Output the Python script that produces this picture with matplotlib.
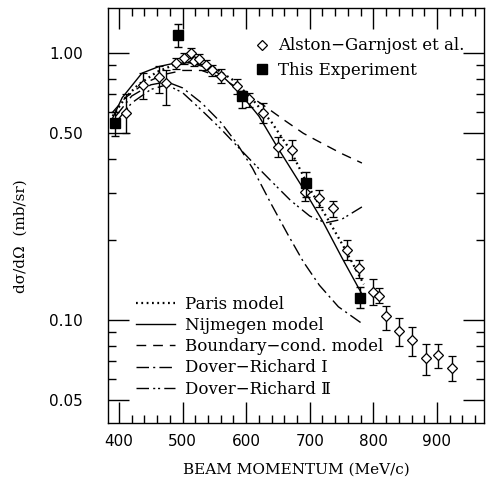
import numpy as np
import matplotlib
matplotlib.use("Agg")
import matplotlib.pyplot as plt
from matplotlib.ticker import FixedLocator, NullFormatter, FixedFormatter

# Alston-Garnjost et al. data
ag_x = [411, 438, 463, 474, 490, 503, 514, 518, 526, 537, 547, 561, 585, 605, 627,
        650, 672, 692, 714, 736, 759, 778, 800, 809, 820, 841, 861, 883, 902, 923]
ag_y = [0.596, 0.759, 0.814, 0.771, 0.916, 0.955, 1.00, 0.93, 0.95, 0.90, 0.86, 0.82, 0.75, 0.67, 0.596,
        0.446, 0.433, 0.302, 0.287, 0.263, 0.183, 0.156, 0.127, 0.123, 0.103, 0.091, 0.084, 0.072, 0.074, 0.066]
ag_lo = [0.50, 0.67, 0.71, 0.64, 0.87, 0.91, 0.96, 0.89, 0.91, 0.86, 0.82, 0.77, 0.70, 0.63, 0.547,
         0.408, 0.397, 0.278, 0.265, 0.243, 0.168, 0.144, 0.114, 0.116, 0.092, 0.080, 0.073, 0.062, 0.066, 0.059]
ag_hi = [0.70, 0.84, 0.89, 0.86, 0.96, 1.00, 1.04, 0.97, 0.99, 0.94, 0.90, 0.87, 0.80, 0.71, 0.65,
         0.484, 0.472, 0.328, 0.307, 0.28, 0.199, 0.168, 0.142, 0.132, 0.113, 0.102, 0.094, 0.081, 0.081, 0.073]

# This experiment
ex_x = [394, 493, 593, 694, 779]
ex_y = [0.547, 1.167, 0.69, 0.326, 0.121]
ex_lo = [0.49, 1.05, 0.62, 0.289, 0.111]
ex_hi = [0.60, 1.28, 0.72, 0.358, 0.133]

# Model curves
paris_x = [390, 410, 430, 460, 490, 520, 550, 580, 610, 640, 670, 700, 730, 755, 785]
paris_y = [0.58, 0.68, 0.76, 0.85, 0.91, 0.93, 0.88, 0.79, 0.67, 0.55, 0.43, 0.31, 0.235, 0.185, 0.136]

nij_x = [390, 405, 436, 463, 482, 510, 540, 560, 590, 620, 650, 690, 720, 750, 782]
nij_y = [0.57, 0.68, 0.84, 0.89, 0.91, 0.92, 0.88, 0.83, 0.71, 0.58, 0.44, 0.31, 0.235, 0.172, 0.125]

bc_x = [390, 410, 440, 470, 500, 530, 560, 590, 626, 660, 690, 711, 750, 782]
bc_y = [0.60, 0.68, 0.77, 0.83, 0.86, 0.86, 0.81, 0.73, 0.64, 0.56, 0.50, 0.47, 0.42, 0.387]

dr1_x = [395, 420, 450, 475, 500, 530, 560, 585, 610, 640, 665, 690, 715, 745, 782]
dr1_y = [0.58, 0.69, 0.76, 0.78, 0.74, 0.65, 0.55, 0.46, 0.37, 0.27, 0.21, 0.165, 0.135, 0.112, 0.097]

dr2_x = [395, 420, 450, 475, 500, 530, 560, 585, 610, 640, 670, 700, 725, 750, 782]
dr2_y = [0.55, 0.65, 0.73, 0.76, 0.71, 0.61, 0.52, 0.45, 0.39, 0.33, 0.28, 0.245, 0.231, 0.238, 0.265]

legend_models = ["Paris model", "Nijmegen model", "Boundary\u2212cond. model",
                 "Dover\u2212Richard \u2160", "Dover\u2212Richard \u2161"]
legend_data = ["Alston\u2212Garnjost et al.", "This Experiment"]

x_major = [400, 500, 600, 700, 800, 900]
y_major = [0.05, 0.10, 0.50, 1.00]
y_major_labels = ["0.05", "0.10", "0.50", "1.00"]

serif = ["DejaVu Serif", "DejaVu Sans"]

fig = plt.figure(figsize=(4.86, 4.80), dpi=100)
ax = fig.add_axes([108/486, 1-423/480, (484-108)/486, (423-8)/480])
ax.set_yscale("log")
ax.set_xlim(382.7, 974)
ax.set_ylim(0.0411, 1.474)

lw = 1.0
l1, = ax.plot(paris_x, paris_y, color="black", lw=1.6, linestyle=(0, (0.8, 1.6)))
l2, = ax.plot(nij_x, nij_y, color="black", lw=lw, linestyle="-")
l3, = ax.plot(bc_x, bc_y, color="black", lw=lw, linestyle=(0, (7, 5)))
l4, = ax.plot(dr1_x, dr1_y, color="black", lw=lw, linestyle=(0, (9, 3, 1.5, 3)))
l5, = ax.plot(dr2_x, dr2_y, color="black", lw=lw, linestyle=(0, (9, 3, 1.5, 2, 1.5, 3)))

ag_err = [np.array(ag_y) - np.array(ag_lo), np.array(ag_hi) - np.array(ag_y)]
ex_err = [np.array(ex_y) - np.array(ex_lo), np.array(ex_hi) - np.array(ex_y)]
h1 = ax.errorbar(ag_x, ag_y, yerr=ag_err, fmt="D", ms=5, mfc="white", mec="black", mew=0.9,
                 ecolor="black", elinewidth=1.0, capsize=3, capthick=1.0, zorder=4)
h2 = ax.errorbar(ex_x, ex_y, yerr=ex_err, fmt="s", ms=7, mfc="black", mec="black",
                 ecolor="black", elinewidth=1.0, capsize=3, capthick=1.0, zorder=5)

ax.xaxis.set_major_locator(FixedLocator(x_major))
ax.xaxis.set_minor_locator(FixedLocator([v for v in range(380, 980, 20) if v not in x_major]))
ax.yaxis.set_major_locator(FixedLocator(y_major))
ax.yaxis.set_major_formatter(FixedFormatter(y_major_labels))
ax.yaxis.set_minor_locator(FixedLocator([0.06, 0.07, 0.08, 0.09, 0.2, 0.3, 0.4, 0.6, 0.7, 0.8, 0.9]))
ax.yaxis.set_minor_formatter(NullFormatter())
ax.tick_params(which="both", direction="in", top=True, right=True, width=1.0)
ax.tick_params(which="major", length=15)
ax.tick_params(which="minor", length=6)
ax.tick_params(axis="y", which="major", pad=18, labelsize=11)
ax.tick_params(axis="x", which="major", pad=8, labelsize=11)
for s in ax.spines.values():
    s.set_linewidth(1.0)

leg1 = ax.legend([h1[0], h2[0]], legend_data, loc="upper left", frameon=False,
                 prop={"family": serif, "size": 12}, handlelength=0.8, handletextpad=0.55,
                 bbox_to_anchor=(0.375, 0.945), borderaxespad=0.0, labelspacing=0.45)
ax.add_artist(leg1)
leg2 = ax.legend([l1, l2, l3, l4, l5], legend_models, loc="lower left", frameon=False,
                 prop={"family": serif, "size": 12}, handlelength=2.3, handletextpad=0.6,
                 bbox_to_anchor=(0.058, 0.045), borderaxespad=0.0, labelspacing=0.25)

ax.set_xlabel("BEAM MOMENTUM (MeV/c)", family=serif, fontsize=11, labelpad=10)
ax.set_ylabel("d\u03c3/d\u03a9  (mb/sr)", family=serif, fontsize=11)
ax.yaxis.set_label_coords(-0.215, 0.45)

fig.savefig("out.png", dpi=100)
